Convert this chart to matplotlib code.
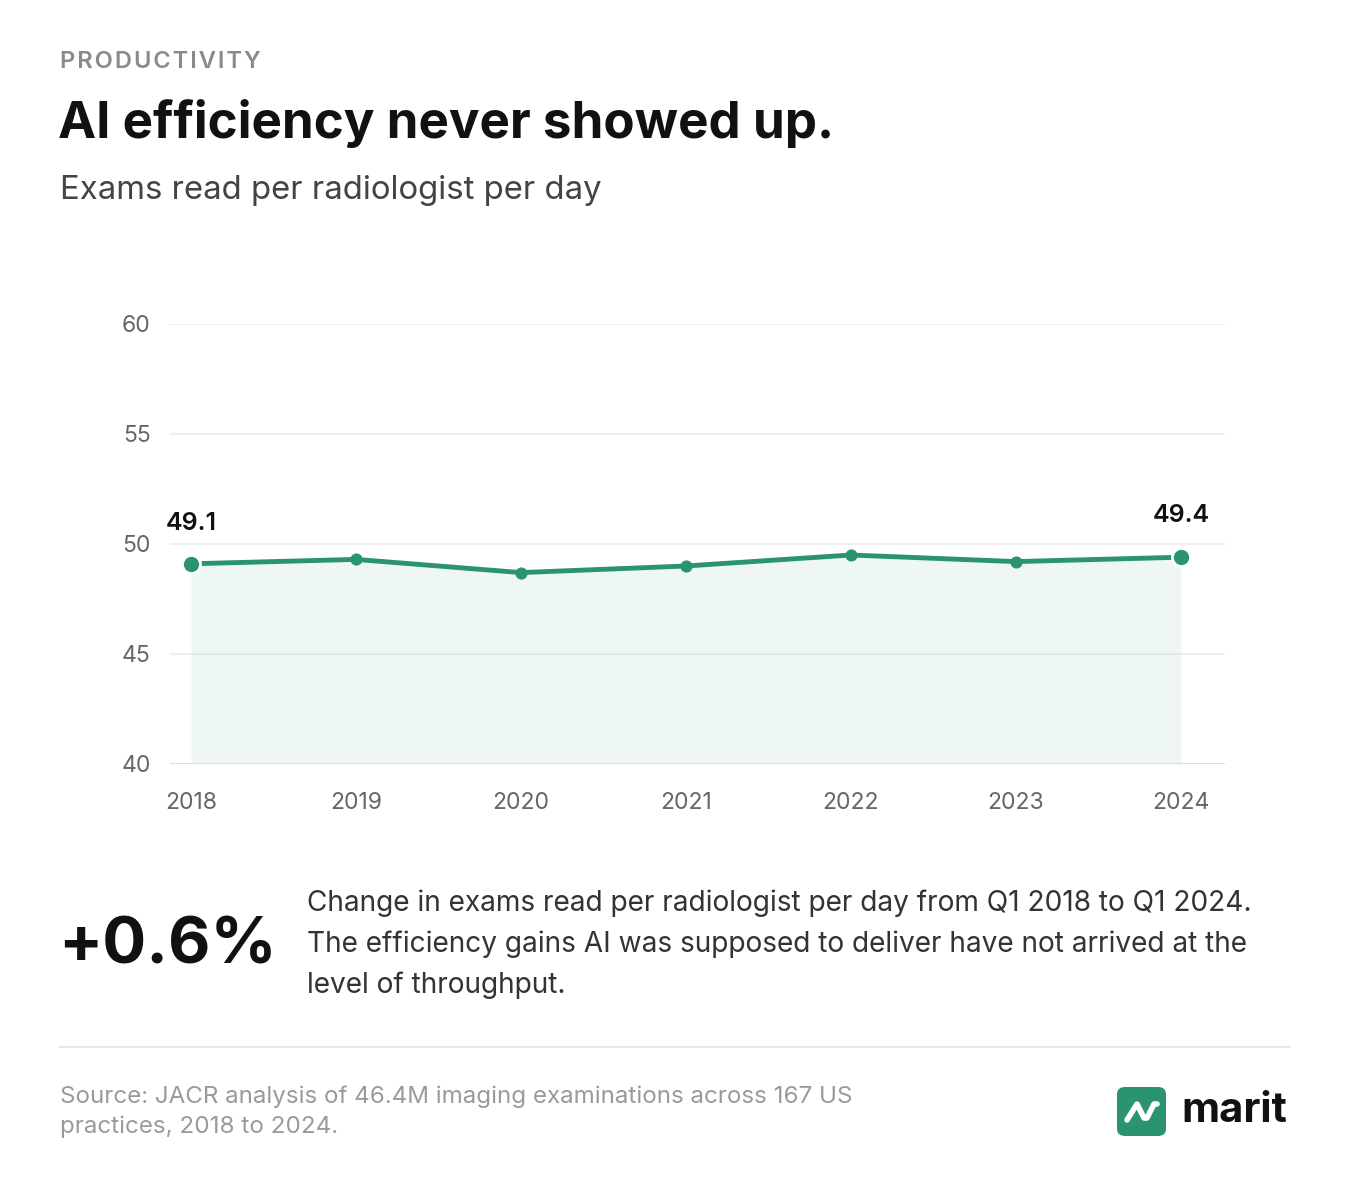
import matplotlib.pyplot as plt
from matplotlib.patches import FancyBboxPatch

plt.rcParams['font.family'] = ['Inter', 'DejaVu Sans']

years = [2018, 2019, 2020, 2021, 2022, 2023, 2024]
exams = [49.1, 49.3, 48.7, 49.0, 49.5, 49.2, 49.4]
yticks = [40, 45, 50, 55, 60]

GREEN = '#2a9470'
W, H = 1356, 1192

fig = plt.figure(figsize=(W / 100, H / 100), dpi=100)
fig.patch.set_facecolor('white')

def fx(px):
    return px / W

def fy(py):
    return 1 - py / H

# header
fig.text(fx(60), fy(62), 'P R O D U C T I V I T Y'.replace(' ', '\u200a'), fontsize=17, color='#8a8a8a',
         weight='semibold', va='center')
fig.text(fx(58), fy(124), 'AI efficiency never showed up.', fontsize=36.8, color='#111111', weight='bold', va='center')
fig.text(fx(60), fy(191), 'Exams read per radiologist per day', fontsize=23.7, color='#444444', va='center')

# chart
ax = fig.add_axes([fx(170), fy(764), fx(1225) - fx(170), fy(324) - fy(764)])
ax.fill_between(years, exams, 40, color=GREEN, alpha=0.07, lw=0)
ax.plot(years, exams, color=GREEN, lw=3.5, zorder=3)
ax.scatter(years[1:-1], exams[1:-1], s=60, color=GREEN, zorder=4)
ax.scatter([years[0], years[-1]], [exams[0], exams[-1]], s=170, color=GREEN, edgecolor='white', lw=2, zorder=5)
ax.annotate(f'{exams[0]}', (years[0], exams[0]), xytext=(0, 24), textcoords='offset points',
            ha='center', fontsize=18, weight='semibold', color='#111111')
ax.annotate(f'{exams[-1]}', (years[-1], exams[-1]), xytext=(0, 25), textcoords='offset points',
            ha='center', fontsize=18, weight='semibold', color='#111111')
ax.set_ylim(40, 60)
ax.set_xlim(2017.873, 2024.267)
ax.set_yticks(yticks)
ax.set_xticks(years)
ax.grid(axis='y', color='#ececec', lw=1.2)
ax.set_axisbelow(True)
for s in ax.spines.values():
    s.set_visible(False)
ax.axhline(40, color='#dddddd', lw=1.5)
ax.tick_params(length=0, labelsize=16.5, labelcolor='#666666')
ax.tick_params(axis='y', pad=14)
ax.tick_params(axis='x', pad=20)
for lab in ax.get_yticklabels():
    lab.set_horizontalalignment('right')

# stat block
fig.text(fx(58), fy(946), '+0.6%', fontsize=47, weight='bold', color='#111111', va='center')
fig.text(fx(307), fy(944),
         'Change in exams read per radiologist per day from Q1 2018 to Q1 2024.\n'
         'The efficiency gains AI was supposed to deliver have not arrived at the\n'
         'level of throughput.',
         fontsize=20.2, color='#333333', va='center', linespacing=1.63)

# divider
fig.add_artist(plt.Line2D([fx(60), fx(1290)], [fy(1047), fy(1047)], color='#e3e3e3', lw=1.2))

# footer
fig.text(fx(60), fy(1112),
         'Source: JACR analysis of 46.4M imaging examinations across 167 US\npractices, 2018 to 2024.',
         fontsize=17.4, color='#9a9a9a', va='center', linespacing=1.4)

# logo
logo = FancyBboxPatch((fx(1117), fy(1136)), fx(49), fy(1087) - fy(1136),
                      boxstyle='round,pad=0,rounding_size=0.006', transform=fig.transFigure,
                      facecolor=GREEN, edgecolor='none')
fig.add_artist(logo)
fig.add_artist(plt.Line2D([fx(1127), fx(1137), fx(1144), fx(1147), fx(1154), fx(1157)],
                          [fy(1120), fy(1104), fy(1118), fy(1118), fy(1104), fy(1104)],
                          color='white', lw=4, solid_capstyle='round', solid_joinstyle='round'))
fig.text(fx(1181), fy(1111), 'marit', fontsize=30, weight='bold', color='#111111', va='center')

fig.savefig('out.png', dpi=100, facecolor='white')
